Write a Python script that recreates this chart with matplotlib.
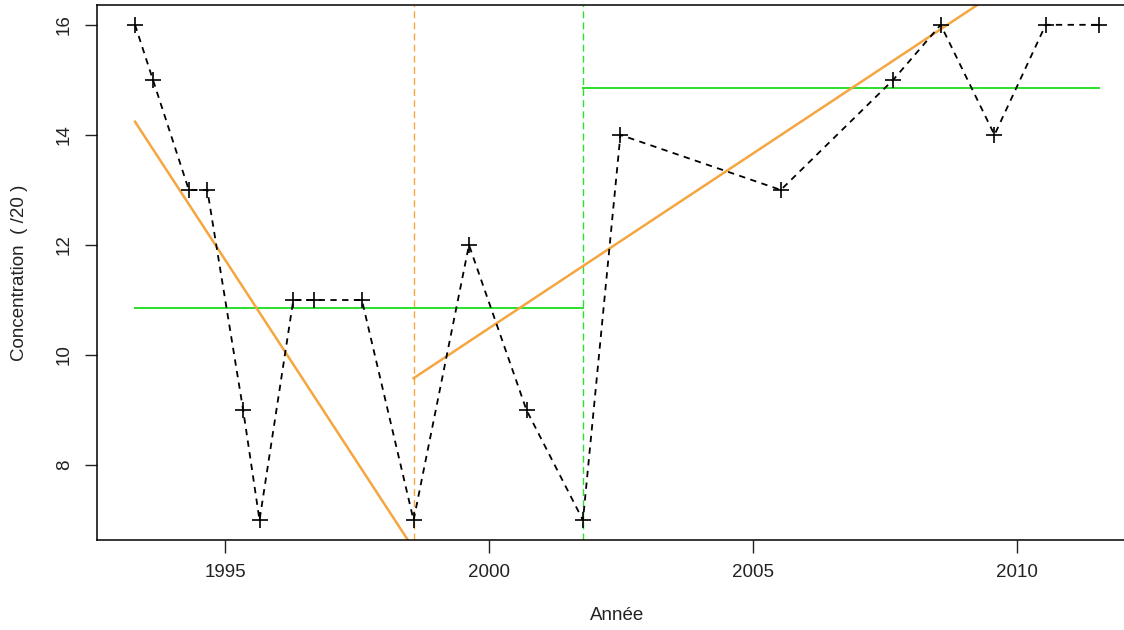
import numpy as np
import matplotlib
matplotlib.use("Agg")
import matplotlib.pyplot as plt

plt.rcParams['font.family'] = ['Liberation Sans', 'DejaVu Sans']

# observations (year, concentration /20)
annee = [1993.29, 1993.63, 1994.31, 1994.66, 1995.34, 1995.65, 1996.29, 1996.68,
         1997.59, 1998.57, 1999.62, 2000.71, 2001.78, 2002.49, 2005.53, 2007.66,
         2008.56, 2009.58, 2010.55, 2011.57]
conc = [16, 15, 13, 13, 9, 7, 11, 11, 11, 7, 12, 9, 7, 14, 13, 15, 16, 14, 16, 16]

# breaks (rupture dates)
rupture_tend = 1998.57
rupture_moy = 2001.78

# segment means
moy_x = [[1993.29, 2001.78], [2001.78, 2011.57]]
moy_y = [10.85, 14.86]

# linear trends per segment (start/end values)
tend_x = [[1993.29, 1998.57], [1998.57, 2011.57]]
tend_y = [[14.24, 6.48], [9.58, 17.83]]

orange = '#F5A640'
vert = '#2BE02B'

fig = plt.figure(figsize=(11.24, 6.3), dpi=100)
ax = fig.add_axes([96.5 / 1124, 90 / 630, (1138 - 96.5) / 1124, 535 / 630])

ax.plot(annee, conc, color='black', linestyle=(0, (3.5, 3)), linewidth=1.3,
        marker='+', markersize=11, markeredgewidth=1.2, zorder=3)

for xs, y in zip(moy_x, moy_y):
    ax.plot(xs, [y, y], color=vert, linewidth=1.4, zorder=2)
for xs, ys in zip(tend_x, tend_y):
    ax.plot(xs, ys, color=orange, linewidth=1.8, zorder=2)

ax.axvline(rupture_tend, color=orange, linestyle=(0, (5, 3)), linewidth=1.0, zorder=1)
ax.axvline(rupture_moy, color=vert, linestyle=(0, (5, 3)), linewidth=1.0, zorder=1)

ax.set_xlim(1992.56, 2012.30)
ax.set_ylim(6.64, 16.36)
ax.set_xticks([1995, 2000, 2005, 2010])
ax.set_yticks([8, 10, 12, 14, 16])
ax.tick_params(axis='both', direction='out', length=9, width=1, labelsize=13.5,
               colors='#222222', pad=8)
ax.tick_params(axis='y', labelrotation=90)
for lab in ax.get_yticklabels():
    lab.set_verticalalignment('center')

for s in ax.spines.values():
    s.set_linewidth(1.1)

ax.set_xlabel('Année', fontsize=13.5, color='#222222', labelpad=19)
ax.set_ylabel('Concentration  ( /20 )', fontsize=13.5, color='#222222', labelpad=20)

fig.savefig('out.png', dpi=100)
